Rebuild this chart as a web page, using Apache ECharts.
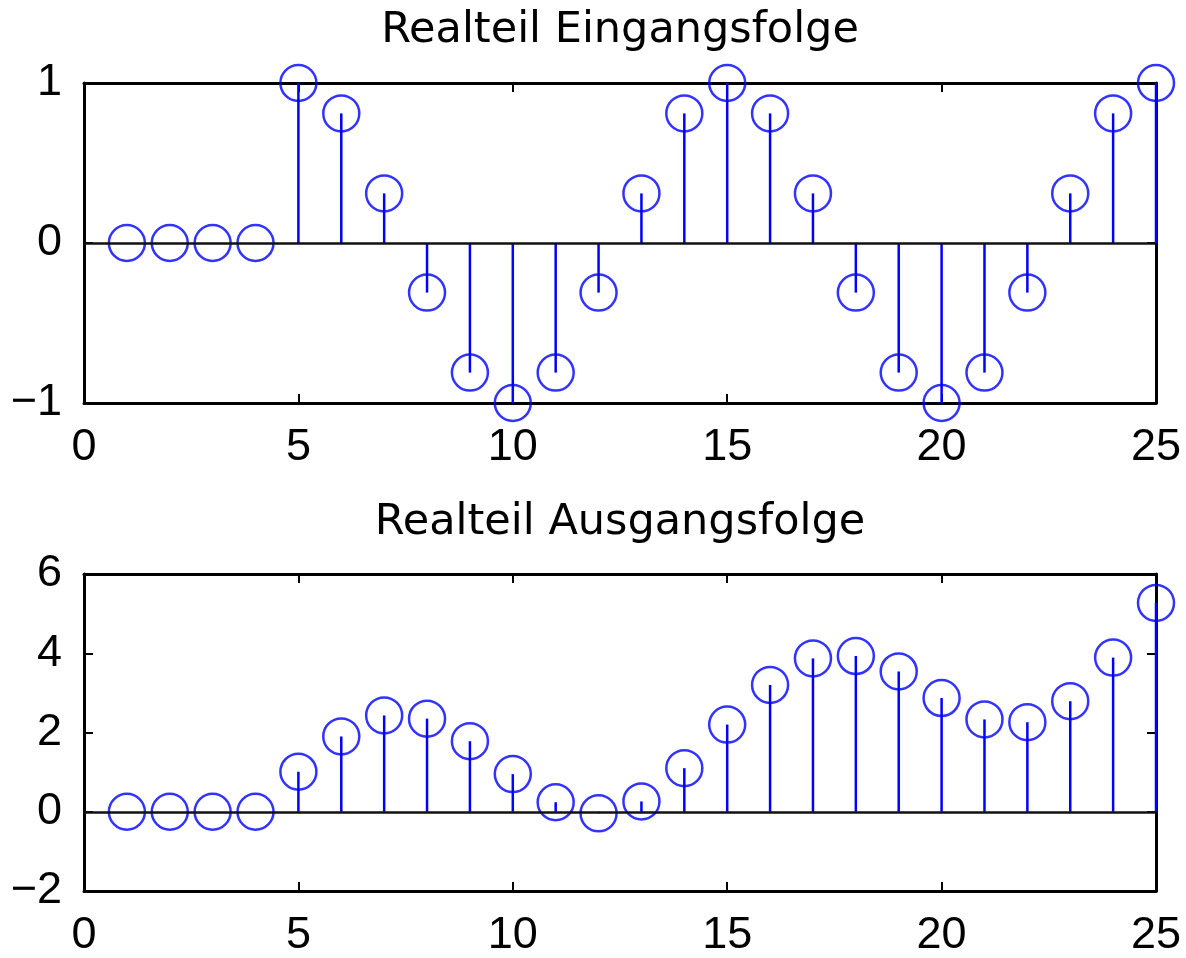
<!DOCTYPE html>
<html><head><meta charset="utf-8">
<script src="https://cdn.jsdelivr.net/npm/echarts@6/dist/echarts.min.js"></script>
<style>html,body{margin:0;padding:0;background:#fff}#c{width:1186px;height:958px}</style>
</head><body><div id="c"></div>
<script>
const nValues = [1,2,3,4,5,6,7,8,9,10,11,12,13,14,15,16,17,18,19,20,21,22,23,24,25];
const inputRe = [0,0,0,0,1,0.81,0.31,-0.31,-0.81,-1,-0.81,-0.31,0.31,0.81,1,0.81,0.31,-0.31,-0.81,-1,-0.81,-0.31,0.31,0.81,1];
const outputRe = [0,0,0,0,1.01,1.9,2.43,2.35,1.78,0.95,0.24,-0.04,0.26,1.1,2.2,3.2,3.87,3.93,3.54,2.87,2.33,2.26,2.79,3.89,5.27];
const titles = ['Realteil Eingangsfolge', 'Realteil Ausgangsfolge'];
const xRange = [0, 25, 5];
const yRangeTop = [-1, 1, 1];
const yRangeBottom = [-2, 6, 2];

const blue = '#0000ff';
const tickFont = {fontFamily: '"Liberation Sans", Arial, sans-serif', fontSize: 45, color: '#000'};
const fmt = v => v < 0 ? '\u2212' + (-v) : String(v);

function pairs(ys) { return nValues.map((x, i) => [x, ys[i]]); }

function xAxes(gridIndex) {
  const base = {type: 'value', gridIndex, min: xRange[0], max: xRange[1], interval: xRange[2],
    splitLine: {show: false},
    axisLine: {show: true, onZero: false, lineStyle: {color: '#000', width: 3}},
    axisTick: {show: true, inside: true, length: 9, lineStyle: {color: '#000', width: 2}}};
  return [
    Object.assign({}, base, {position: 'bottom', axisLabel: Object.assign({margin: 22, formatter: fmt}, tickFont)}),
    Object.assign({}, base, {position: 'top', axisLabel: {show: false}})
  ];
}
function yAxes(gridIndex, r) {
  const base = {type: 'value', gridIndex, min: r[0], max: r[1], interval: r[2],
    splitLine: {show: false},
    axisLine: {show: true, onZero: false, lineStyle: {color: '#000', width: 3}},
    axisTick: {show: true, inside: true, length: 9, lineStyle: {color: '#000', width: 2}}};
  return [
    Object.assign({}, base, {position: 'left', axisLabel: Object.assign({margin: 22, formatter: fmt}, tickFont)}),
    Object.assign({}, base, {position: 'right', axisLabel: {show: false}})
  ];
}

function stemSeries(ys, axisIdx) {
  return [
    {type: 'custom', xAxisIndex: axisIdx, yAxisIndex: axisIdx, data: pairs(ys), clip: false,
      renderItem: function (params, api) {
        const x = api.value(0), y = api.value(1);
        const p0 = api.coord([x, 0]), p1 = api.coord([x, y]);
        return {type: 'line', shape: {x1: p0[0], y1: p0[1], x2: p1[0], y2: p1[1]},
          style: {stroke: blue, lineWidth: 2.5}};
      },
      markLine: {silent: true, symbol: ['none', 'none'], label: {show: false},
        lineStyle: {color: '#111', width: 2.5, type: 'solid'}, data: [{yAxis: 0}]},
      z: 3},
    {type: 'scatter', xAxisIndex: axisIdx, yAxisIndex: axisIdx, data: pairs(ys), clip: false,
      symbol: 'circle', symbolSize: 36,
      itemStyle: {color: 'rgba(0,0,0,0)', borderColor: blue, borderWidth: 2.5},
      z: 4}
  ];
}

const chart = echarts.init(document.getElementById('c'), null, {renderer: 'canvas'});
chart.setOption({
  animation: false,
  backgroundColor: '#fff',
  title: [
    {text: titles[0], left: 620, top: 9, textAlign: 'center', padding: 0,
      textStyle: {fontFamily: 'DejaVu Sans', fontSize: 43, fontWeight: 'normal', color: '#000'}},
    {text: titles[1], left: 620, top: 501, textAlign: 'center', padding: 0,
      textStyle: {fontFamily: 'DejaVu Sans', fontSize: 43, fontWeight: 'normal', color: '#000'}}
  ],
  grid: [
    {left: 84, right: 30, top: 83, height: 320},
    {left: 84, right: 30, top: 574, height: 317}
  ],
  xAxis: xAxes(0).concat(xAxes(1)),
  yAxis: yAxes(0, yRangeTop).concat(yAxes(1, yRangeBottom)),
  series: stemSeries(inputRe, 0).concat(stemSeries(outputRe, 2))
});
</script>
</body></html>
